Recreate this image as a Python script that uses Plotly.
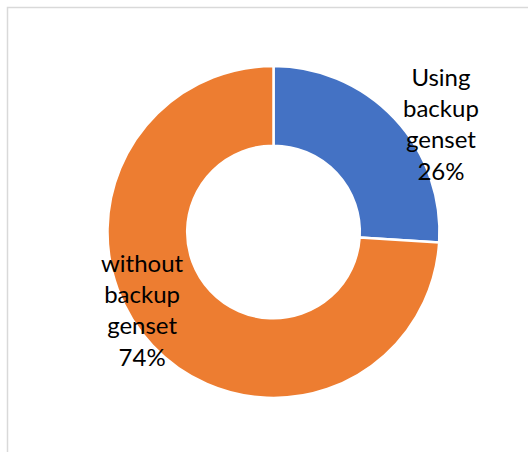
import plotly.graph_objects as go

# Share of respondents by backup genset use
categories = ["Using backup genset", "without backup genset"]
shares = [26, 74]
label_lines = [["Using", "backup", "genset"], ["without", "backup", "genset"]]
colors = ["#4472C4", "#ED7D31"]

W, H = 528, 452

fig = go.Figure(
    go.Pie(
        labels=categories,
        values=shares,
        hole=0.52,
        sort=False,
        direction="clockwise",
        rotation=0,
        marker=dict(colors=colors, line=dict(color="white", width=2.5)),
        textinfo="none",
        hoverinfo="label+percent",
        showlegend=False,
        domain=dict(x=[107.5 / W, 439.5 / W], y=[1 - 398 / H, 1 - 66 / H]),
    )
)

# Data labels placed beside each slice
label_pos = [(441 / W, 1 - 124 / H), (142 / W, 1 - 309 / H)]
total = sum(shares)
for lines, v, (x, y) in zip(label_lines, shares, label_pos):
    text = "<br>".join(lines + [f"{round(100 * v / total)}%"])
    fig.add_annotation(
        x=x, y=y, xref="paper", yref="paper",
        xanchor="center", yanchor="middle",
        text=text, showarrow=False, align="center",
        font=dict(family="Lato, Open Sans, sans-serif", size=24, color="#000000"),
    )

# Chart frame
fig.add_shape(
    type="rect", xref="paper", yref="paper",
    x0=7.5 / W, x1=1.05, y0=-0.05, y1=1 - 7.5 / H,
    line=dict(color="#D9D9D9", width=1.5), fillcolor="rgba(0,0,0,0)",
)

fig.update_layout(
    width=W, height=H,
    margin=dict(l=0, r=0, t=0, b=0),
    paper_bgcolor="white",
    plot_bgcolor="white",
)

fig.write_html("out.html")
